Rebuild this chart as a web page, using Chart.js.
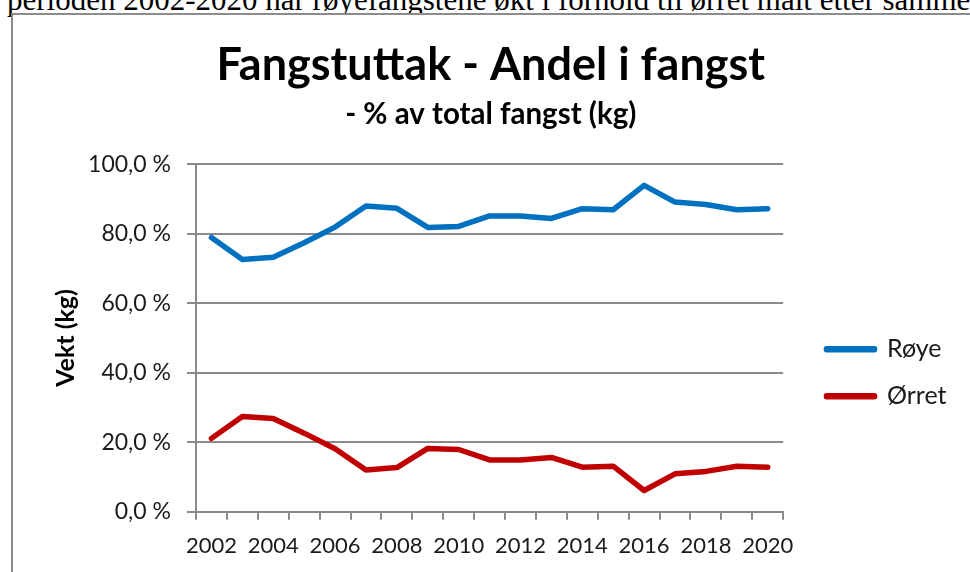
<!DOCTYPE html>
<html>
<head>
<meta charset="utf-8">
<title>Fangstuttak - Andel i fangst</title>
<script src="https://cdn.jsdelivr.net/npm/chart.js@4.4.1/dist/chart.umd.min.js"></script>
<style>
    html, body { margin: 0; padding: 0; background: #fff; overflow: hidden; }
    body { width: 970px; height: 572px; position: relative; }
    .doc-text {
        position: absolute; left: 7px; top: -16.5px;
        font-family: "Liberation Serif", "Times New Roman", serif;
        font-size: 31px; line-height: 31px; white-space: nowrap; color: #000;
    }
    .chart-box {
        position: absolute; left: 11px; top: 13px; width: 957px; height: 557px;
        border-left: 2px solid #8c8c8c; border-top: 2px solid #8c8c8c;
        background: #fff;
    }
    canvas { display: block; }
</style>
</head>
<body>
<div class="doc-text">perioden 2002-2020 har røyefangstene økt i forhold til ørret målt etter samme</div>
<div class="chart-box"><canvas id="fangstChart" width="957" height="557"></canvas></div>

<script>
// Andel av total fangst (kg), per år
const years = ['2002', '2003', '2004', '2005', '2006', '2007', '2008', '2009', '2010', '2011',
               '2012', '2013', '2014', '2015', '2016', '2017', '2018', '2019', '2020'];
const shownYears = ['2002', '2004', '2006', '2008', '2010', '2012', '2014', '2016', '2018', '2020'];
const royeShare = [78.9, 72.6, 73.2, 77.4, 81.9, 88.0, 87.3, 81.8, 82.1, 85.1,
                   85.1, 84.4, 87.2, 86.9, 93.9, 89.1, 88.4, 86.9, 87.2];
const orretShare = [21.1, 27.4, 26.8, 22.6, 18.1, 12.0, 12.7, 18.2, 17.9, 14.9,
                    14.9, 15.6, 12.8, 13.1, 6.1, 10.9, 11.6, 13.1, 12.8];
const yTickValues = [0, 20, 40, 60, 80, 100];
const yTickLabels = ['0,0 %', '20,0 %', '40,0 %', '60,0 %', '80,0 %', '100,0 %'];

const FONT = 'Lato, "Open Sans", sans-serif';
const GRID = '#8a8a8a';
const TEXT = '#1a1a1a';

const ctx = document.getElementById('fangstChart').getContext('2d');
const chart = new Chart(ctx, {
    type: 'line',
    data: {
        labels: years,
        datasets: [{
            label: 'Røye',
            data: royeShare,
            borderColor: '#0070C0',
            backgroundColor: '#0070C0',
            borderWidth: 5.5,
            borderCapStyle: 'round',
            borderJoinStyle: 'round',
            pointRadius: 0,
            tension: 0
        }, {
            label: 'Ørret',
            data: orretShare,
            borderColor: '#C00000',
            backgroundColor: '#C00000',
            borderWidth: 5.5,
            borderCapStyle: 'round',
            borderJoinStyle: 'round',
            pointRadius: 0,
            tension: 0
        }]
    },
    options: {
        responsive: false,
        animation: false,
        devicePixelRatio: 1,
        layout: { padding: { left: 12, top: 0, bottom: 0, right: 13.5 } },
        scales: {
            x: {
                type: 'category',
                offset: true,
                grid: {
                    offset: true,
                    drawOnChartArea: false,
                    drawTicks: true,
                    tickLength: 8,
                    color: GRID,
                    lineWidth: 2
                },
                border: { display: true, color: GRID, width: 2 },
                ticks: {
                    autoSkip: false,
                    maxRotation: 0,
                    padding: 13,
                    color: TEXT,
                    font: { family: FONT, size: 22 },
                    callback: function(value) {
                        const label = this.getLabelForValue(value);
                        return shownYears.includes(label) ? label : '';
                    }
                },
                afterFit: function(scale) { scale.height = 60.3; }
            },
            y: {
                min: 0,
                max: 100,
                grid: {
                    color: GRID,
                    lineWidth: 2,
                    drawTicks: true,
                    tickLength: 9
                },
                border: { display: true, color: GRID, width: 2 },
                ticks: {
                    stepSize: 20,
                    padding: 16,
                    color: TEXT,
                    font: { family: FONT, size: 23 },
                    callback: function(value) {
                        const i = yTickValues.indexOf(value);
                        return i >= 0 ? yTickLabels[i] : '';
                    }
                },
                title: {
                    display: true,
                    text: 'Vekt (kg)',
                    color: '#000',
                    font: { family: FONT, size: 25, weight: 'bold' },
                    padding: { top: 26, bottom: 0 }
                },
                afterFit: function(scale) { scale.width = 171; }
            },
            // tom akse som gir luft mellom plottet og forklaringen
            gap: {
                axis: 'y',
                position: 'right',
                grid: { display: false },
                border: { display: false },
                ticks: { display: false },
                afterFit: function(scale) { scale.width = 21.3; }
            }
        },
        plugins: {
            title: {
                display: true,
                text: 'Fangstuttak - Andel i fangst',
                color: '#000',
                font: { family: FONT, size: 45, weight: 'bold' },
                padding: { top: 23.5, bottom: 4 }
            },
            subtitle: {
                display: true,
                text: '- % av total fangst (kg)',
                color: '#000',
                font: { family: FONT, size: 29.5, weight: 'bold' },
                padding: { top: 0, bottom: 32.3 }
            },
            legend: {
                display: true,
                position: 'right',
                fullSize: false,
                align: 'center',
                title: {
                    display: true,
                    text: ' ',
                    font: { size: 12 },
                    padding: { top: 0, bottom: 55.2 }
                },
                labels: {
                    boxWidth: 48,
                    boxHeight: 1,
                    padding: 22,
                    color: TEXT,
                    font: { family: FONT, size: 25 }
                }
            },
            tooltip: { enabled: false }
        }
    }
});
</script>
</body>
</html>
